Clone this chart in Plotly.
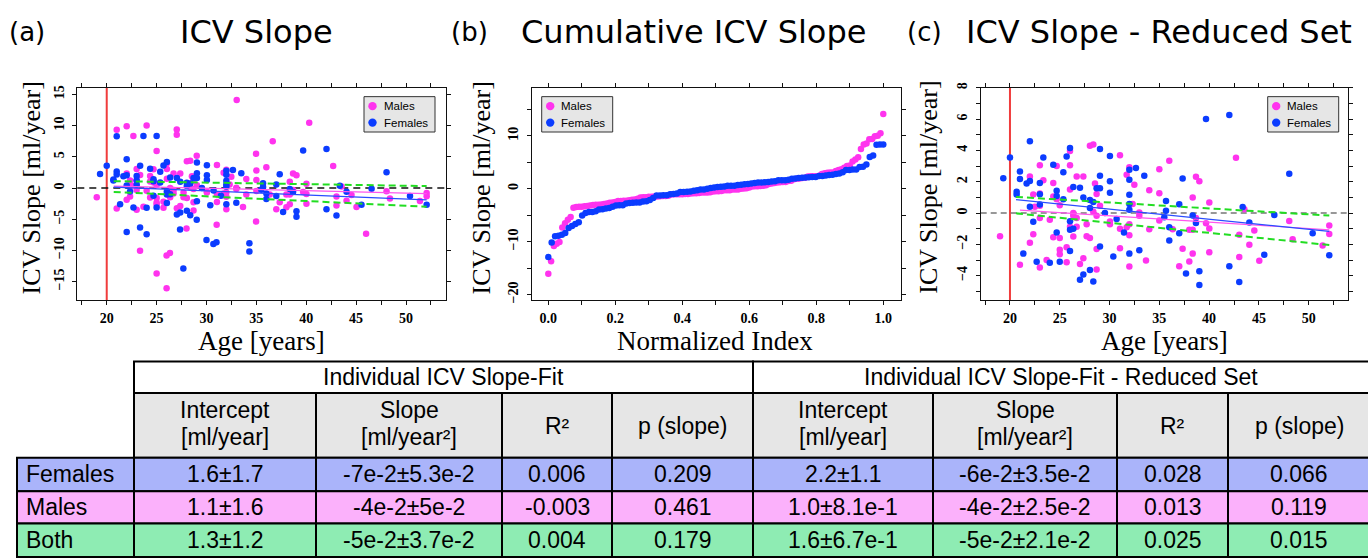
import plotly.graph_objects as go

W, H = 1368, 558

# ---------------- data ----------------
# reduced set (panel c) – females
female_age = [19.33, 20.0, 20.67, 20.67, 21.0, 21.0, 21.34, 21.67, 22.0, 22.0,
              22.0, 22.34, 22.68, 23.0, 23.0, 23.0, 23.35, 24.0, 24.35, 24.69,
              24.69, 24.69, 25.0, 25.36, 25.36, 25.69, 26.03, 26.03, 26.03, 26.03,
              26.36, 26.36, 27.03, 27.03, 27.37, 27.37, 28.03, 28.03, 28.03, 28.37,
              28.37, 28.7, 29.04, 29.04, 29.04, 29.04, 29.54, 30.04, 30.04, 30.04,
              30.38, 30.71, 31.45, 31.99, 31.99, 31.99, 31.99, 31.99, 31.99, 32.65,
              32.99, 33.49, 35.5, 35.67, 35.67, 36.0, 36.0, 37.0, 37.0, 37.34,
              37.68, 38.35, 38.68, 39.02, 39.02, 39.69, 42.03, 42.03, 43.03, 43.37,
              44.04, 45.54, 46.55, 48.05, 50.4, 52.07]
female_slope = [2.23, 3.55, 1.36, 1.19, 2.65, 2.17, -2.59, 1.88, 4.59, 2.05,
                0.4, -0.56, -3.11, 1.92, 1.2, 0.54, 3.55, -3.17, 3.09, 1.42,
                1.09, -1.25, -3.11, 2.61, 0.88, 3.61, 4.15, -0.52, -1.06, -2.42,
                -1.0, 1.67, 1.61, -4.26, 1.0, -3.92, 0.84, 0.33, -3.63, 0.71,
                -4.38, 1.59, 4.09, 2.38, 1.59, -2.13, 0.0, 3.65, 2.03, 1.29,
                -2.78, -0.38, -1.25, 2.76, 2.13, 1.17, 0.58, 0.21, -2.59, 2.88,
                -2.38, 2.38, -0.27, 0.77, 0.15, -0.9, -1.75, 0.56, -1.29, 2.21,
                -3.86, -0.15, -0.63, -3.72, -4.59, 6.01, 6.26, -3.4, -4.4, 0.38,
                -0.61, -2.67, -0.13, 2.51, -1.29, -2.69]
# reduced set (panel c) – males
male_age = [19.0, 21.0, 22.0, 22.0, 22.34, 22.34, 22.5, 23.0, 23.0, 23.0,
            23.0, 23.0, 23.35, 23.68, 24.0, 24.35, 24.35, 24.35, 24.69, 24.69,
            25.0, 25.0, 25.0, 25.0, 25.69, 25.69, 26.03, 26.03, 26.03, 26.03,
            26.36, 26.36, 26.36, 26.7, 26.7, 26.7, 27.03, 27.37, 27.37, 27.7,
            27.7, 28.03, 28.37, 28.03, 28.37, 28.54, 28.7, 28.7, 28.7, 28.7,
            29.04, 30.04, 30.04, 31.05, 31.05, 31.05, 31.72, 31.72, 31.99, 31.99,
            31.99, 31.99, 32.32, 32.49, 32.99, 32.99, 33.66, 33.99, 33.99, 35.0,
            35.0, 35.0, 36.0, 36.34, 37.0, 37.34, 38.01, 38.01, 38.35, 38.35,
            38.35, 38.68, 38.68, 39.02, 39.69, 40.02, 40.02, 40.02, 42.7, 43.03,
            43.03, 43.54, 44.04, 44.54, 45.04, 48.05, 48.39, 51.4, 52.07, 52.07]
male_slope = [-1.48, -3.3, 2.34, -1.9, 1.19, -1.36, 0.4, 3.05, 1.25, 0.46,
              -0.31, -3.47, 2.09, -3.0, -0.42, 1.92, 1.06, -1.54, 3.0, 0.88,
              -1.59, -2.34, -2.63, 0.5, -2.19, -3.15, 3.97, 3.05, 1.5, -0.88,
              -1.5, 0.0, -0.17, 2.34, -0.88, -0.31, -3.26, 2.34, -2.88, -0.71,
              -1.48, 4.3, 4.38, -1.59, 0.08, 1.88, 1.21, -0.17, -2.3, -3.61,
              0.46, -0.54, -0.71, 3.69, -1.0, -2.25, 2.44, -0.9, 2.92, -0.71,
              -1.42, -3.42, 0.58, 1.8, 0.04, -0.17, -3.03, 1.46, -1.04, 2.8,
              1.27, -0.48, 3.34, -1.04, -3.4, -2.28, -3.09, -1.06, -1.06, 1.0,
              -2.59, 2.32, -0.31, 2.03, -0.65, 0.67, -0.98, -2.51, 3.53, -1.38,
              -2.8, 0.25, -2.03, -1.11, -3.05, -0.5, -1.67, -2.07, -0.79, -1.34]
# subjects only in the full set (panel a)
female_out_age = [21.0, 23.68, 25.0, 22.0, 23.34, 24.0, 27.68, 27.35, 29.02, 30.0,
                  30.69, 31.0, 34.3, 34.3]
female_out_slope = [8.29, 8.34, 8.34, -7.03, -6.33, -7.4, -12.9, -6.66, -5.07, -8.34,
                    -8.97, -8.7, -8.86, -10.17]
male_out_age = [33.03, 21.0, 22.0, 22.67, 24.0, 25.0, 27.02, 27.02, 29.02, 34.97,
                36.64, 40.3, 23.34, 25.0, 26.0, 26.0, 26.34, 28.0, 31.02, 34.97, 46.0]
male_out_slope = [14.1, 9.33, 9.91, 8.34, 10.0, 5.93, 9.39, 8.55, 5.16, 5.5,
                  7.5, 10.45, -10.07, -13.7, -16.05, -10.8, -10.4, -6.5, -5.87, -5.35, -7.34]

age_cutoff = 20

# fitted lines
fit_a_x = [20.7, 52.07]
fit_a_female = [0.15, -1.89]
fit_a_male = [0.31, -0.89]
fit_a_band_hi = [1.1, 0.31]
fit_a_band_lo = [-0.63, -3.0]
fit_c_x = [20.6, 52.07]
fit_c_female = [0.86, -1.17]
fit_c_male_x = [21.0, 52.07]
fit_c_male = [0.19, -1.07]
fit_c_band_hi = [1.03, -0.16]
fit_c_band_lo = [-0.02, -2.04]

# table
table_groups = ["Females", "Males", "Both"]
table_blocks = ["Individual ICV Slope-Fit", "Individual ICV Slope-Fit - Reduced Set"]
table_col_line1 = ["Intercept", "Slope", "R²", "p (slope)"]
table_col_line2 = ["[ml/year]", "[ml/year²]", "", ""]
full_intercept = ["1.6±1.7", "1.1±1.6", "1.3±1.2"]
full_slope = ["-7e-2±5.3e-2", "-4e-2±5e-2", "-5e-2±3.7e-2"]
full_r2 = ["0.006", "-0.003", "0.004"]
full_p = ["0.209", "0.461", "0.179"]
red_intercept = ["2.2±1.1", "1.0±8.1e-1", "1.6±6.7e-1"]
red_slope = ["-6e-2±3.5e-2", "-4e-2±2.5e-2", "-5e-2±2.1e-2"]
red_r2 = ["0.028", "0.013", "0.025"]
red_p = ["0.066", "0.119", "0.015"]

# ---------------- styling ----------------
MALE_C = "#ff33ee"
FEMALE_C = "#0b3cff"
MALE_LINE = "#ff55ee"
FEMALE_LINE = "#2a4cff"
GREEN = "#22dd22"
ROW_COLORS = ["#aab4fa", "#fbb1fb", "#8eecb3"]
MS = 6.5


def fx(px):
    return px / W


def fy(py):
    return 1 - py / H


fig = go.Figure()

all_f_age = female_age + female_out_age
all_f_slope = female_slope + female_out_slope
all_m_age = male_age + male_out_age
all_m_slope = male_slope + male_out_slope


def pts(x, y, color, xa, ya, name):
    fig.add_trace(go.Scatter(x=x, y=y, mode="markers", name=name, showlegend=False,
                             marker=dict(color=color, size=MS, line=dict(width=0)),
                             xaxis=xa, yaxis=ya, hoverinfo="x+y"))


def line(x, y, color, width, xa, ya, dash=None):
    fig.add_trace(go.Scatter(x=x, y=y, mode="lines", showlegend=False, hoverinfo="skip",
                             line=dict(color=color, width=width, dash=dash),
                             xaxis=xa, yaxis=ya))


# panel a
pts(all_m_age, all_m_slope, MALE_C, "x", "y", "Males")
pts(all_f_age, all_f_slope, FEMALE_C, "x", "y", "Females")
line(fit_a_x, fit_a_male, MALE_LINE, 1.2, "x", "y")
line(fit_a_x, fit_a_female, FEMALE_LINE, 1.2, "x", "y")
line(fit_a_x, fit_a_band_hi, GREEN, 2, "x", "y", "7px,4px")
line(fit_a_x, fit_a_band_lo, GREEN, 2, "x", "y", "7px,4px")

# panel b – sorted slopes vs normalized index
m_sorted = sorted(all_m_slope)
f_sorted = sorted(all_f_slope)
m_idx = [i / (len(m_sorted) - 1) for i in range(len(m_sorted))]
f_idx = [i / (len(f_sorted) - 1) for i in range(len(f_sorted))]
pts(m_idx, m_sorted, MALE_C, "x2", "y2", "Males")
pts(f_idx, f_sorted, FEMALE_C, "x2", "y2", "Females")

# panel c
pts(male_age, male_slope, MALE_C, "x3", "y3", "Males")
pts(female_age, female_slope, FEMALE_C, "x3", "y3", "Females")
line(fit_c_male_x, fit_c_male, MALE_LINE, 1.2, "x3", "y3")
line(fit_c_x, fit_c_female, FEMALE_LINE, 1.2, "x3", "y3")
line(fit_c_x, fit_c_band_hi, GREEN, 2, "x3", "y3", "7px,4px")
line(fit_c_x, fit_c_band_lo, GREEN, 2, "x3", "y3", "7px,4px")

TICKFONT = dict(family="Liberation Serif", size=14, color="black", weight="bold")


def axis(domain, rng, dtick, anchor, minor=None, angle=None, fmt=None, standoff=3):
    d = dict(domain=domain, range=rng, dtick=dtick, tick0=0, anchor=anchor,
             showline=True, linecolor="#111", linewidth=1, mirror="ticks",
             ticks="outside", ticklen=4, tickwidth=1, tickcolor="#111",
             showgrid=False, zeroline=False, tickfont=TICKFONT, fixedrange=True,
             ticklabelstandoff=standoff)
    if minor:
        d["minor"] = dict(dtick=minor, tick0=0, ticks="outside", ticklen=4,
                          tickwidth=1, tickcolor="#111", showgrid=False)
    if angle is not None:
        d["tickangle"] = angle
    if fmt:
        d["tickformat"] = fmt
    return d


ydom = [fy(299.3), fy(83.3)]
layout = dict(
    width=W, height=H, margin=dict(l=0, r=0, t=0, b=0),
    paper_bgcolor="white", plot_bgcolor="white", showlegend=False,
    xaxis=axis([fx(77.3), fx(445.7)], [17.05, 53.98], 5, "y", minor=2.5, standoff=1),
    yaxis=axis(ydom, [-17.93, 16.05], 5, "x", angle=-90, standoff=3),
    xaxis2=axis([fx(531.7), fx(900.7)], [-0.0496, 1.052], 0.2, "y2", minor=0.1, fmt=".1f", standoff=1),
    yaxis2=axis(ydom, [-21.0, 19.05], 10, "x2", minor=5, angle=-90, standoff=3),
    xaxis3=axis([fx(980.7), fx(1348.3)], [17.06, 53.98], 5, "y3", minor=2.5, standoff=1),
    yaxis3=axis(ydom, [-5.55, 8.0], 2, "x3", minor=1, angle=-90, standoff=3),
)
fig.update_layout(**layout)

shapes = []
annotations = []

# reference lines
shapes.append(dict(type="line", xref="x", yref="y domain", x0=age_cutoff, x1=age_cutoff,
                   y0=0, y1=1, line=dict(color="#f03c3c", width=2), layer="below"))
shapes.append(dict(type="line", xref="x3", yref="y3 domain", x0=age_cutoff, x1=age_cutoff,
                   y0=0, y1=1, line=dict(color="#f03c3c", width=2), layer="below"))
shapes.append(dict(type="line", xref="x domain", yref="y", x0=0, x1=1, y0=0, y1=0,
                   line=dict(color="#111", width=1.5, dash="7px,5px"), layer="below"))
shapes.append(dict(type="line", xref="x3 domain", yref="y3", x0=0, x1=1, y0=0, y1=0,
                   line=dict(color="#777", width=1.5, dash="6px,4px"), layer="below"))


def text(x, y, s, size, family, xanchor="center", yanchor="middle", angle=0, color="black"):
    annotations.append(dict(x=fx(x), y=fy(y), xref="paper", yref="paper", text=s,
                            showarrow=False, xanchor=xanchor, yanchor=yanchor,
                            textangle=angle, font=dict(size=size, family=family, color=color),
                            borderpad=0))


# panel titles
TF = "DejaVu Sans"
text(8, 26, "(a)", 26, TF, xanchor="left")
text(256.5, 26, "ICV Slope", 32, TF)
text(450, 26, "(b)", 26, TF, xanchor="left")
text(693, 26, "Cumulative ICV Slope", 32, TF)
text(906, 26, "(c)", 26, TF, xanchor="left")
text(1158.5, 26, "ICV Slope - Reduced Set", 32, TF)

# axis titles
AF = "Liberation Serif"
text(31.7, 185, "ICV Slope [ml/year]", 26, AF, angle=-90)
text(481.7, 185, "ICV Slope [ml/year]", 26, AF, angle=-90)
text(929, 185, "ICV Slope [ml/year]", 26, AF, angle=-90)
text(261, 341, "Age [years]", 27, AF)
text(715, 341, "Normalized Index", 27, AF)
text(1164, 341, "Age [years]", 27, AF)

# legends (manual boxes)
LF = "Liberation Sans"
for left in (364, 541.7, 1267.7):
    shapes.append(dict(type="rect", xref="paper", yref="paper", x0=fx(left), x1=fx(left + 71),
                       y0=fy(128.3), y1=fy(92.3), fillcolor="#e6e6e6",
                       line=dict(color="#333", width=1)))
    for cy, col, lab in ((102, MALE_C, "Males"), (118.7, FEMALE_C, "Females")):
        cx = left + 8.5
        r = 4.2
        shapes.append(dict(type="circle", xref="paper", yref="paper", x0=fx(cx - r), x1=fx(cx + r),
                           y0=fy(cy + r), y1=fy(cy - r), fillcolor=col, line=dict(width=0)))
        text(left + 18.5, cy, lab, 11.5, LF, xanchor="left")

# table
col_edges = [134, 316, 502, 612, 753, 933, 1117, 1228, 1370]
row_edges = [362, 394, 460, 494, 527, 561]
label_col = [17, 134]
TBF = "Liberation Sans"
TS = 23
BORDER = dict(color="black", width=2)


def cell(x0, x1, y0, y1, fill):
    shapes.append(dict(type="rect", xref="paper", yref="paper", x0=fx(x0), x1=fx(x1),
                       y0=fy(y1), y1=fy(y0), fillcolor=fill, line=BORDER, layer="above"))


# header row 1
cell(col_edges[0], col_edges[4], row_edges[0], row_edges[1], "white")
cell(col_edges[4], col_edges[8], row_edges[0], row_edges[1], "white")
text((col_edges[0] + col_edges[4]) / 2, (row_edges[0] + row_edges[1]) / 2, table_blocks[0], TS, TBF)
text((col_edges[4] + col_edges[8] - 2) / 2, (row_edges[0] + row_edges[1]) / 2, table_blocks[1], TS, TBF)
# header row 2
for k in range(8):
    cell(col_edges[k], col_edges[k + 1], row_edges[1], row_edges[2], "#e6e6e6")
    cxm = (col_edges[k] + col_edges[k + 1]) / 2
    l1, l2 = table_col_line1[k % 4], table_col_line2[k % 4]
    if l2:
        text(cxm, 411, l1, TS, TBF)
        text(cxm, 439, l2, TS, TBF)
    else:
        text(cxm, 428, l1, TS, TBF)
# data rows
columns = [full_intercept, full_slope, full_r2, full_p, red_intercept, red_slope, red_r2, red_p]
for r, g in enumerate(table_groups):
    y0, y1 = row_edges[2 + r], row_edges[3 + r]
    cell(label_col[0], label_col[1], y0, y1, ROW_COLORS[r])
    text(label_col[0] + 8, (y0 + y1) / 2, g, TS, TBF, xanchor="left")
    for k in range(8):
        cell(col_edges[k], col_edges[k + 1], y0, y1, ROW_COLORS[r])
        text((col_edges[k] + col_edges[k + 1]) / 2, (y0 + y1) / 2, columns[k][r], TS, TBF)

fig.update_layout(shapes=shapes, annotations=annotations)
fig.write_html("out.html")
